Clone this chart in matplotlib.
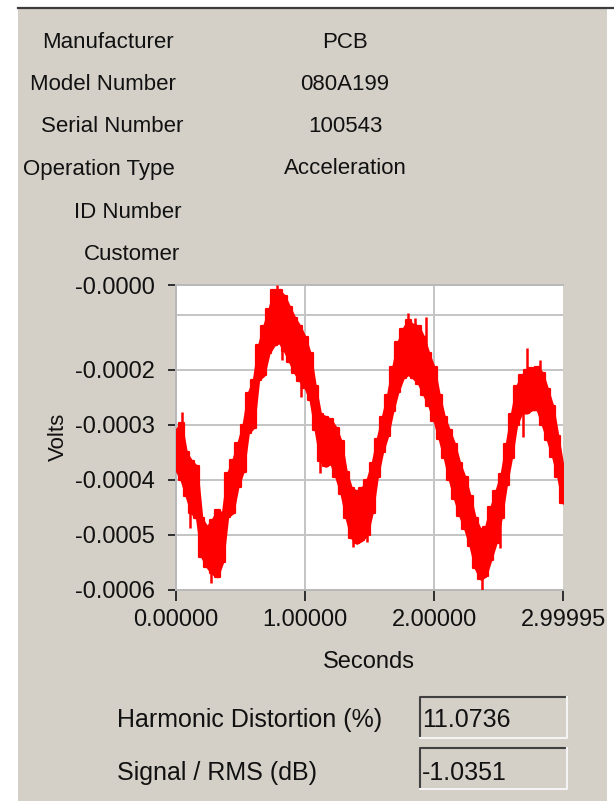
import numpy as np
import matplotlib
matplotlib.use("Agg")
import matplotlib.pyplot as plt
from matplotlib.patches import Rectangle
from matplotlib.lines import Line2D

# sensor info shown above the graph
info_labels = ["Manufacturer", "Model Number", "Serial Number",
               "Operation Type", "ID Number", "Customer"]
info_values = ["PCB", "080A199", "100543", "Acceleration", "", ""]

# time-domain trace: upper / lower edge of the noisy band (units of 1e-4 V)
t = [0.00, 0.04, 0.08, 0.12, 0.16, 0.20, 0.24, 0.28, 0.32, 0.36,
     0.40, 0.44, 0.48, 0.52, 0.56, 0.60, 0.64, 0.68, 0.72, 0.76,
     0.80, 0.84, 0.88, 0.92, 0.96, 1.00, 1.04, 1.08, 1.12, 1.16,
     1.20, 1.24, 1.28, 1.32, 1.36, 1.40, 1.44, 1.48, 1.52, 1.56,
     1.60, 1.64, 1.68, 1.72, 1.76, 1.80, 1.84, 1.88, 1.92, 1.96,
     2.00, 2.04, 2.08, 2.12, 2.16, 2.20, 2.24, 2.28, 2.32, 2.36,
     2.40, 2.44, 2.48, 2.52, 2.56, 2.60, 2.64, 2.68, 2.72, 2.76,
     2.80, 2.84, 2.88, 2.92, 2.96, 2.99995]
upper = [-3.09, -2.96, -3.50, -3.65, -3.75, -4.70, -4.85, -4.73, -4.55, -4.60,
         -3.88, -3.64, -3.33, -3.00, -2.42, -2.18, -1.55, -1.20, -0.90, -0.55,
         -0.55, -0.65, -0.85, -1.05, -1.20, -1.40, -1.70, -2.30, -2.80, -2.85,
         -2.90, -3.05, -3.30, -3.85, -4.15, -4.20, -4.15, -4.00, -3.70, -3.25,
         -2.85, -2.45, -1.95, -1.50, -1.25, -1.10, -1.18, -1.20, -1.40, -1.70,
         -1.95, -2.45, -2.85, -3.10, -3.35, -3.70, -3.95, -4.30, -4.70, -4.90,
         -4.85, -4.50, -4.20, -3.90, -3.35, -2.80, -2.30, -2.10, -2.00, -1.97,
         -1.95, -2.05, -2.35, -2.65, -3.20, -3.76]
lower = [-3.82, -4.00, -4.30, -4.60, -4.70, -5.40, -5.58, -5.70, -5.76, -5.50,
         -4.67, -4.60, -4.12, -3.85, -3.15, -3.05, -2.18, -2.10, -1.70, -1.55,
         -1.50, -1.65, -1.85, -2.05, -2.20, -2.32, -2.55, -3.10, -3.65, -3.75,
         -3.70, -3.95, -4.25, -4.70, -5.05, -5.15, -5.10, -5.00, -4.60, -3.95,
         -3.50, -3.20, -2.75, -2.40, -2.15, -2.08, -2.15, -2.25, -2.45, -2.65,
         -2.92, -3.25, -3.60, -4.00, -4.35, -4.65, -4.90, -5.20, -5.60, -5.80,
         -5.75, -5.45, -5.15, -4.70, -4.10, -3.60, -3.00, -2.78, -2.78, -2.72,
         -2.72, -3.00, -3.28, -3.58, -3.95, -4.42]

# isolated noise spikes: time, tip value (1e-4 V)
spike_t = [0.05, 0.78, 1.80, 1.85, 1.94, 2.72, 2.82,
           0.11, 0.27, 0.33, 0.82, 0.97, 1.12, 1.37, 1.48, 2.37, 2.51, 2.69, 2.98]
spike_v = [-2.76, -0.45, -0.97, -1.05, -1.04, -1.60, -1.82,
           -4.87, -5.87, -5.76, -1.82, -2.49, -3.88, -5.21, -5.12, -6.00, -5.24, -3.21, -4.42]

y_ticks = [-0.0000455, -0.0002, -0.0003, -0.0004, -0.0005, -0.0006]
y_ticklabels = ["-0.0000", "-0.0002", "-0.0003", "-0.0004", "-0.0005", "-0.0006"]
y_grid = [-0.0001, -0.0002, -0.0003, -0.0004, -0.0005]
x_ticks = [0.0, 1.0, 2.0, 2.99995]
x_ticklabels = ["0.00000", "1.00000", "2.00000", "2.99995"]

harmonic_distortion = "11.0736"
signal_rms = "-1.0351"

W, H = 614, 801
BG = "#D4D0C8"
FONT = ["Liberation Sans", "DejaVu Sans"]


def fx(x):
    return x / W


def fy(y):
    return 1 - y / H


fig = plt.figure(figsize=(W / 100, H / 100), dpi=100, facecolor="white")

# grey dialog panel with dark top edge
fig.add_artist(Rectangle((fx(18), 0), fx(607) - fx(18), fy(8), transform=fig.transFigure,
                         facecolor=BG, edgecolor="none", zorder=0))
fig.add_artist(Line2D([fx(18), 1], [fy(8), fy(8)], transform=fig.transFigure,
                      color="#3C3C3C", lw=1.6, zorder=1))

# info rows
label_right = [174, 176, 183, 175, 182, 180]
row_y = [43, 85, 127, 169, 213, 255]
for lab, val, rx, ry in zip(info_labels, info_values, label_right, row_y):
    fig.text(fx(rx), fy(ry), lab, family=FONT, fontsize=16, color="#111111",
             ha="right", va="center")
    if val:
        fig.text(fx(345), fy(ry), val, family=FONT, fontsize=16, color="#111111",
                 ha="center", va="center")

# graph
ax = fig.add_axes([fx(176), fy(590), fx(563) - fx(176), fy(285) - fy(590)])
ax.set_facecolor("white")
tt = np.array(t)
lo = np.array(lower) * 1e-4
hi = np.array(upper) * 1e-4
ax.fill_between(tt, lo, hi, step="mid", color="#FF0000", lw=1.6, zorder=3)
ax.fill_between(tt, lo, hi, color="#FF0000", lw=1.6, zorder=3)
mid = np.interp(spike_t, tt, (lo + hi) / 2)
ax.vlines(spike_t, mid, np.array(spike_v) * 1e-4, color="#FF0000", lw=1.8, zorder=3)

for g in y_grid:
    ax.axhline(g, color="#C4C4C4", lw=1.4, zorder=1)
for g in [1.0, 2.0]:
    ax.axvline(g, color="#C4C4C4", lw=1.4, zorder=1)

ax.set_xlim(0, 2.99995)
ax.set_ylim(-0.0006, -0.0000455)
ax.set_yticks(y_ticks)
ax.set_yticklabels(y_ticklabels, family=FONT, fontsize=17, color="#111111")
ax.set_xticks(x_ticks)
ax.set_xticklabels(x_ticklabels, family=FONT, fontsize=17, color="#111111")
ax.tick_params(axis="y", direction="out", length=6, width=1.3, pad=9, color="#222222")
ax.tick_params(axis="x", direction="out", length=8, width=1.3, pad=6, color="#222222")
for side in ["left", "top", "bottom"]:
    ax.spines[side].set_color("#B8B8B8")
    ax.spines[side].set_linewidth(1.4)
ax.spines["right"].set_visible(False)

fig.text(fx(58), fy(437), "Volts", family=FONT, fontsize=16, rotation=90,
         ha="center", va="center", color="#111111")
fig.text(fx(369), fy(662), "Seconds", family=FONT, fontsize=17,
         ha="center", va="center", color="#111111")

# result indicators
for lab, val, ry, top in [("Harmonic Distortion (%)", harmonic_distortion, 720, 697),
                          ("Signal / RMS (dB)", signal_rms, 773, 748)]:
    fig.text(fx(117), fy(ry), lab, family=FONT, fontsize=18, ha="left", va="center",
             color="#111111")
    x0, x1, y0, y1 = 420, 567, top, top + 41
    fig.add_artist(Rectangle((fx(x0), fy(y1)), fx(x1) - fx(x0), fy(y0) - fy(y1),
                             transform=fig.transFigure, facecolor=BG, edgecolor="none"))
    fig.add_artist(Line2D([fx(x0), fx(x0), fx(x1)], [fy(y1), fy(y0), fy(y0)],
                          transform=fig.transFigure, color="#404040", lw=1.5))
    fig.add_artist(Line2D([fx(x0), fx(x1), fx(x1)], [fy(y1), fy(y1), fy(y0)],
                          transform=fig.transFigure, color="#F4F4F4", lw=1.5))
    fig.text(fx(422), fy(ry), val, family=FONT, fontsize=18, ha="left", va="center",
             color="#111111")

fig.savefig("out.png", dpi=100, facecolor="white")
